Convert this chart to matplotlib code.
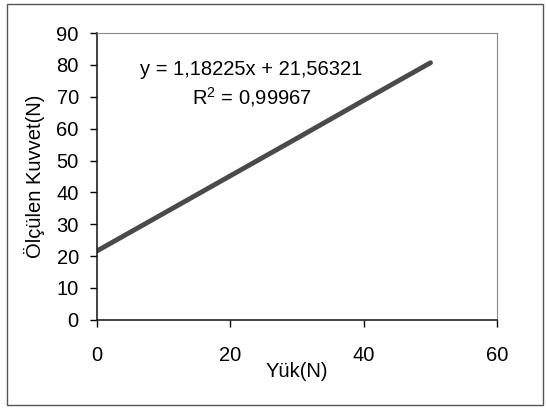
import matplotlib.pyplot as plt
from matplotlib.patches import Rectangle

plt.rcParams['font.family'] = ['Liberation Sans', 'DejaVu Sans']

# load (N) and measured force (N)
yuk = [0, 10, 20, 30, 40, 50]
kuvvet = [21.6, 33.4, 45.2, 57.0, 68.9, 80.7]

equation = "y = 1,18225x + 21,56321"
r_squared = "R$^{2}$ = 0,99967"

plt.rcParams['mathtext.fontset'] = 'custom'
plt.rcParams['mathtext.rm'] = 'Liberation Sans'

fig = plt.figure(figsize=(5.47, 4.09), dpi=100)
ax = fig.add_axes([0.177, 0.218, 0.732, 0.701])

ax.plot(yuk, kuvvet, color='#4a4a4a', linewidth=3.5, solid_capstyle='round')

ax.set_xlim(0, 60)
ax.set_ylim(0, 90)
ax.set_xticks([0, 20, 40, 60])
ax.set_yticks(range(0, 91, 10))
ax.tick_params(labelsize=14.5, length=5, width=1, direction='out', pad=8)
ax.tick_params(axis='x', pad=14)

for side in ['top', 'right']:
    ax.spines[side].set_color('#888888')
    ax.spines[side].set_linestyle((0, (1, 1)))
for side in ['left', 'bottom']:
    ax.spines[side].set_color('#222222')
    ax.spines[side].set_linewidth(1.2)

ax.set_xlabel("Yük(N)", fontsize=14.5, labelpad=-2)
ax.set_ylabel("Ölçülen Kuvvet(N)", fontsize=14.5, labelpad=8)

ax.text(23.1, 78.6, equation, fontsize=14.5, ha='center', va='center')
ax.text(23.3, 69.8, r_squared, fontsize=14.5, ha='center', va='center')

# outer chart frame
fig.patches.append(Rectangle((0.012, 0.01), 0.98, 0.98, transform=fig.transFigure,
                             fill=False, edgecolor='#555555', linewidth=1))

fig.savefig("out.png", dpi=100)
